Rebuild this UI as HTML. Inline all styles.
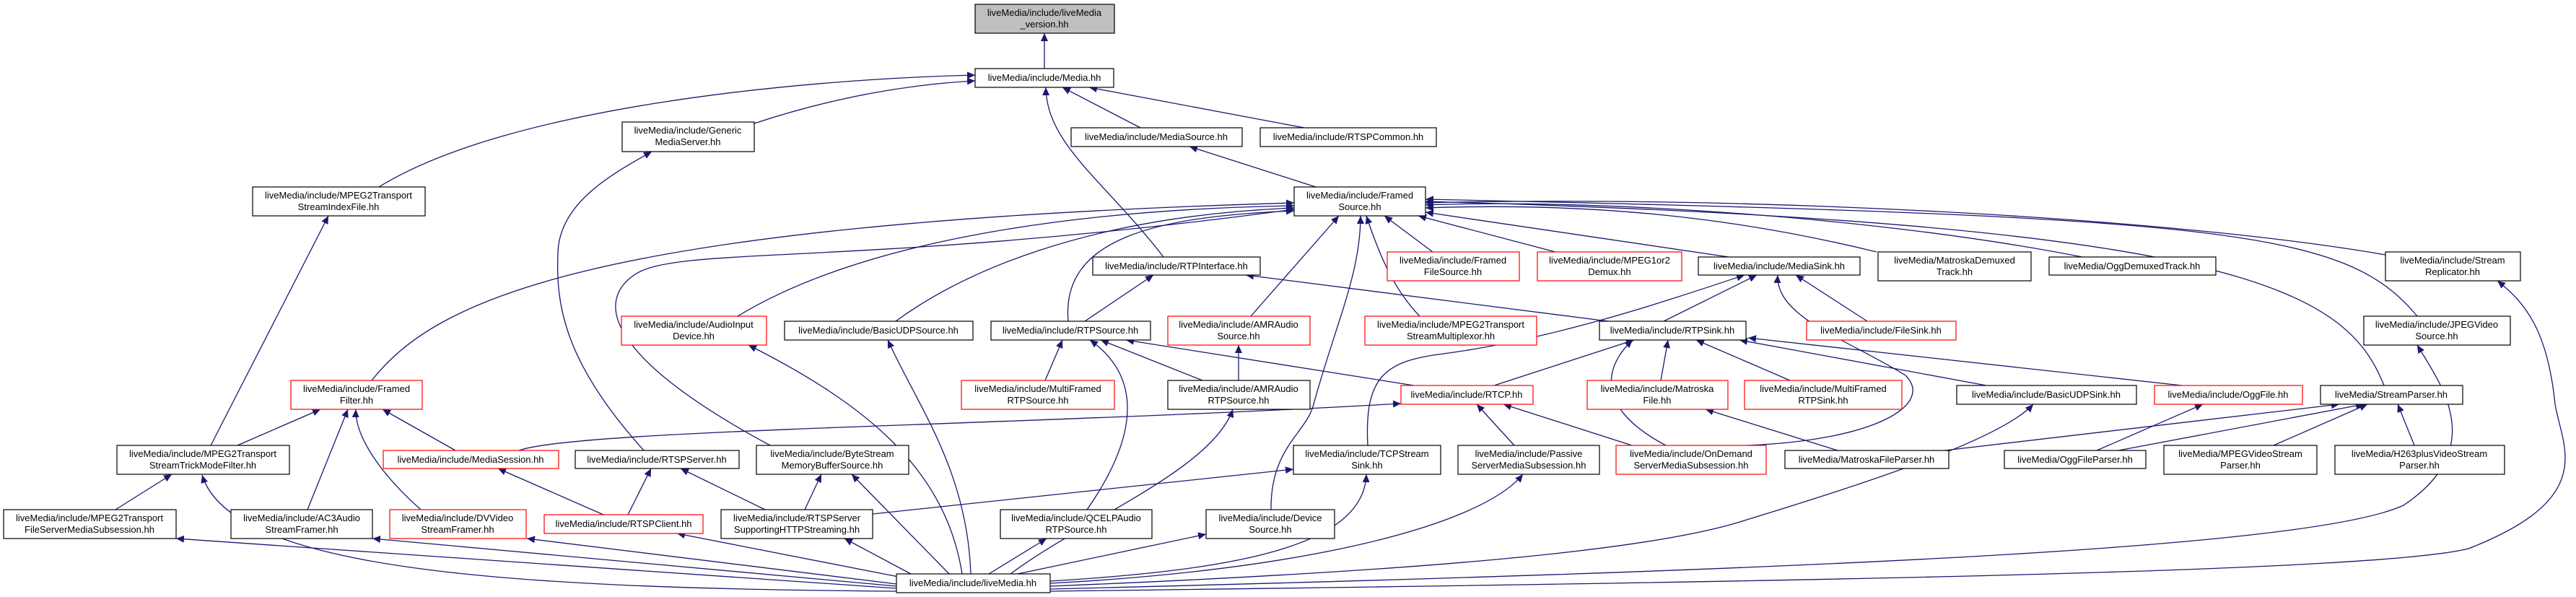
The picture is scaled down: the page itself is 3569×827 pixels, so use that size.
<!DOCTYPE html>
<html><head><meta charset="utf-8"><style>
html,body{margin:0;padding:0;background:#fff;}
svg{display:block;}
text{font-family:"Liberation Sans",sans-serif;font-size:13px;fill:#000;}
.e{fill:none;stroke:#191970;stroke-width:1.3;}
.n{fill:#fff;stroke:#000;stroke-width:1.2;}
.r{fill:#fff;stroke:#ff0000;stroke-width:1.2;}
.g{fill:#bfbfbf;stroke:#000;stroke-width:1.2;}
</style></head><body>
<svg width="3569" height="827" viewBox="0 0 3569 827" xmlns="http://www.w3.org/2000/svg">
<defs><marker id="a" markerWidth="12" markerHeight="10" refX="11" refY="5" orient="auto" markerUnits="userSpaceOnUse"><path d="M0,0 L11,5 L0,10 z" fill="#191970"/></marker></defs>
<g class="e" marker-end="url(#a)">
<path d="M1447,95 L1447,46"/>
<path d="M1045,171 Q1200,120 1351,112"/>
<path d="M525,259 C700,150 1100,110 1351,104"/>
<path d="M1580,177 L1472,121"/>
<path d="M1807,177 L1509,121"/>
<path d="M1612,356 C1530,250 1450,200 1449,121"/>
<path d="M1823,259 L1648,203"/>
<path d="M892,624 C780,500 770,420 773,350 C775,280 850,240 903,210"/>
<path d="M292,617 L455,299"/>
<path d="M515,527 C600,420 800,310 1793,281"/>
<path d="M1022,438 C1200,330 1500,290 1793,285"/>
<path d="M1241,445 C1330,380 1500,300 1793,288"/>
<path d="M1067,617 C850,500 820,420 880,380 C940,340 1200,370 1793,290"/>
<path d="M1480,445 C1470,330 1600,300 1793,292"/>
<path d="M1733,438 L1855,299"/>
<path d="M1761,706 C1760,620 1810,600 1820,560 C1850,450 1885,380 1885,299"/>
<path d="M1967,438 C1930,400 1910,350 1893,299"/>
<path d="M1985,349 L1918,299"/>
<path d="M2155,349 L1965,299"/>
<path d="M2395,356 L1975,294"/>
<path d="M2600,349 C2400,300 2200,280 1975,288"/>
<path d="M2885,356 C2600,300 2200,275 1975,284"/>
<path d="M3305,353 C3000,300 2400,270 1975,281"/>
<path d="M3349,438 C3250,320 3100,300 1975,276"/>
<path d="M3303,534 C3250,400 3100,310 1975,279"/>
<path d="M2228,445 L1726,381"/>
<path d="M1503,445 L1598,381"/>
<path d="M2305,445 L2434,381"/>
<path d="M2587,445 L2488,381"/>
<path d="M1895,617 C1890,520 1920,500 2000,490 C2150,470 2300,420 2417,381"/>
<path d="M2420,617 C2600,610 2680,560 2640,520 C2560,470 2460,440 2463,381"/>
<path d="M2752,534 L2410,471"/>
<path d="M3023,534 L2422,468"/>
<path d="M2070,534 L2264,471"/>
<path d="M2301,527 L2311,471"/>
<path d="M2480,527 L2350,471"/>
<path d="M2308,617 C2200,560 2230,500 2262,471"/>
<path d="M1448,527 L1472,471"/>
<path d="M1666,527 L1525,471"/>
<path d="M1506,706 C1580,600 1580,520 1510,471"/>
<path d="M1959,534 L1560,471"/>
<path d="M1716,527 L1716,478"/>
<path d="M719,624 C800,595 1400,590 1941,559"/>
<path d="M2098,617 L2046,560"/>
<path d="M2261,617 L2083,560"/>
<path d="M2546,624 L2363,567"/>
<path d="M2694,624 L3241,560"/>
<path d="M2905,624 L3052,560"/>
<path d="M2935,624 L3275,560"/>
<path d="M3150,617 L3280,560"/>
<path d="M3345,617 L3322,560"/>
<path d="M329,617 L444,567"/>
<path d="M426,706 L482,567"/>
<path d="M583,706 C520,650 492,600 493,567"/>
<path d="M631,624 L530,567"/>
<path d="M836,713 L690,649"/>
<path d="M870,713 L902,649"/>
<path d="M1060,706 L943,649"/>
<path d="M1115,706 L1138,657"/>
<path d="M1209,712 L1792,650"/>
<path d="M160,706 L238,657"/>
<path d="M1242,815 L244,746"/>
<path d="M1242,819 C700,815 320,790 280,658"/>
<path d="M1242,812 L516,746"/>
<path d="M1242,809 L730,746"/>
<path d="M1250,800 L938,739"/>
<path d="M1262,795 L1170,746"/>
<path d="M1315,795 L1180,657"/>
<path d="M1333,795 C1310,650 1200,560 1037,478"/>
<path d="M1345,795 C1340,650 1270,560 1230,471"/>
<path d="M1370,795 L1450,746"/>
<path d="M1400,795 C1500,720 1680,650 1708,567"/>
<path d="M1410,795 L1671,740"/>
<path d="M1455,805 C1700,790 1890,760 1893,657"/>
<path d="M1455,808 C1800,790 2050,730 2110,657"/>
<path d="M1455,812 C2000,790 2300,760 2420,720 C2650,650 2780,600 2817,560"/>
<path d="M1455,816 C2500,790 3200,760 3330,700 C3450,620 3380,530 3349,478"/>
<path d="M1455,819 C2600,805 3300,790 3420,760 C3600,690 3550,620 3540,560 C3530,460 3500,420 3460,389"/>
</g>
<g>
<rect class="g" x="1351" y="6" width="193" height="40"/><text x="1447" y="22" text-anchor="middle">liveMedia/include/liveMedia</text><text x="1447" y="38" text-anchor="middle">_version.hh</text>
<rect class="n" x="1351" y="95" width="192" height="26"/><text x="1447" y="112" text-anchor="middle">liveMedia/include/Media.hh</text>
<rect class="n" x="862" y="169" width="183" height="41"/><text x="953" y="185" text-anchor="middle">liveMedia/include/Generic</text><text x="953" y="201" text-anchor="middle">MediaServer.hh</text>
<rect class="n" x="350" y="259" width="239" height="40"/><text x="469" y="275" text-anchor="middle">liveMedia/include/MPEG2Transport</text><text x="469" y="291" text-anchor="middle">StreamIndexFile.hh</text>
<rect class="n" x="1484" y="177" width="237" height="26"/><text x="1602" y="194" text-anchor="middle">liveMedia/include/MediaSource.hh</text>
<rect class="n" x="1746" y="177" width="244" height="26"/><text x="1868" y="194" text-anchor="middle">liveMedia/include/RTSPCommon.hh</text>
<rect class="n" x="1793" y="259" width="182" height="40"/><text x="1884" y="275" text-anchor="middle">liveMedia/include/Framed</text><text x="1884" y="291" text-anchor="middle">Source.hh</text>
<rect class="n" x="1514" y="356" width="232" height="25"/><text x="1630" y="373" text-anchor="middle">liveMedia/include/RTPInterface.hh</text>
<rect class="r" x="1922" y="349" width="183" height="40"/><text x="2013" y="365" text-anchor="middle">liveMedia/include/Framed</text><text x="2013" y="381" text-anchor="middle">FileSource.hh</text>
<rect class="r" x="2130" y="349" width="200" height="40"/><text x="2230" y="365" text-anchor="middle">liveMedia/include/MPEG1or2</text><text x="2230" y="381" text-anchor="middle">Demux.hh</text>
<rect class="n" x="2353" y="356" width="224" height="25"/><text x="2465" y="373" text-anchor="middle">liveMedia/include/MediaSink.hh</text>
<rect class="n" x="2602" y="349" width="212" height="40"/><text x="2708" y="365" text-anchor="middle">liveMedia/MatroskaDemuxed</text><text x="2708" y="381" text-anchor="middle">Track.hh</text>
<rect class="n" x="2839" y="356" width="231" height="25"/><text x="2954" y="373" text-anchor="middle">liveMedia/OggDemuxedTrack.hh</text>
<rect class="n" x="3305" y="349" width="187" height="40"/><text x="3398" y="365" text-anchor="middle">liveMedia/include/Stream</text><text x="3398" y="381" text-anchor="middle">Replicator.hh</text>
<rect class="r" x="861" y="438" width="201" height="40"/><text x="961" y="454" text-anchor="middle">liveMedia/include/AudioInput</text><text x="961" y="470" text-anchor="middle">Device.hh</text>
<rect class="n" x="1087" y="445" width="261" height="26"/><text x="1217" y="462" text-anchor="middle">liveMedia/include/BasicUDPSource.hh</text>
<rect class="n" x="1373" y="445" width="221" height="26"/><text x="1483" y="462" text-anchor="middle">liveMedia/include/RTPSource.hh</text>
<rect class="r" x="1618" y="438" width="197" height="40"/><text x="1716" y="454" text-anchor="middle">liveMedia/include/AMRAudio</text><text x="1716" y="470" text-anchor="middle">Source.hh</text>
<rect class="r" x="1891" y="438" width="238" height="40"/><text x="2010" y="454" text-anchor="middle">liveMedia/include/MPEG2Transport</text><text x="2010" y="470" text-anchor="middle">StreamMultiplexor.hh</text>
<rect class="n" x="2216" y="445" width="203" height="26"/><text x="2317" y="462" text-anchor="middle">liveMedia/include/RTPSink.hh</text>
<rect class="r" x="2503" y="445" width="207" height="26"/><text x="2606" y="462" text-anchor="middle">liveMedia/include/FileSink.hh</text>
<rect class="n" x="3275" y="438" width="203" height="40"/><text x="3376" y="454" text-anchor="middle">liveMedia/include/JPEGVideo</text><text x="3376" y="470" text-anchor="middle">Source.hh</text>
<rect class="r" x="403" y="527" width="182" height="40"/><text x="494" y="543" text-anchor="middle">liveMedia/include/Framed</text><text x="494" y="559" text-anchor="middle">Filter.hh</text>
<rect class="r" x="1332" y="527" width="212" height="40"/><text x="1438" y="543" text-anchor="middle">liveMedia/include/MultiFramed</text><text x="1438" y="559" text-anchor="middle">RTPSource.hh</text>
<rect class="n" x="1618" y="527" width="197" height="40"/><text x="1716" y="543" text-anchor="middle">liveMedia/include/AMRAudio</text><text x="1716" y="559" text-anchor="middle">RTPSource.hh</text>
<rect class="r" x="1941" y="534" width="183" height="26"/><text x="2032" y="551" text-anchor="middle">liveMedia/include/RTCP.hh</text>
<rect class="r" x="2199" y="527" width="195" height="40"/><text x="2296" y="543" text-anchor="middle">liveMedia/include/Matroska</text><text x="2296" y="559" text-anchor="middle">File.hh</text>
<rect class="r" x="2417" y="527" width="218" height="40"/><text x="2526" y="543" text-anchor="middle">liveMedia/include/MultiFramed</text><text x="2526" y="559" text-anchor="middle">RTPSink.hh</text>
<rect class="n" x="2711" y="534" width="249" height="26"/><text x="2835" y="551" text-anchor="middle">liveMedia/include/BasicUDPSink.hh</text>
<rect class="r" x="2985" y="534" width="205" height="26"/><text x="3087" y="551" text-anchor="middle">liveMedia/include/OggFile.hh</text>
<rect class="n" x="3215" y="534" width="197" height="26"/><text x="3313" y="551" text-anchor="middle">liveMedia/StreamParser.hh</text>
<rect class="n" x="162" y="617" width="239" height="40"/><text x="281" y="633" text-anchor="middle">liveMedia/include/MPEG2Transport</text><text x="281" y="649" text-anchor="middle">StreamTrickModeFilter.hh</text>
<rect class="r" x="531" y="624" width="243" height="25"/><text x="652" y="641" text-anchor="middle">liveMedia/include/MediaSession.hh</text>
<rect class="n" x="797" y="624" width="227" height="25"/><text x="910" y="641" text-anchor="middle">liveMedia/include/RTSPServer.hh</text>
<rect class="n" x="1048" y="617" width="211" height="40"/><text x="1153" y="633" text-anchor="middle">liveMedia/include/ByteStream</text><text x="1153" y="649" text-anchor="middle">MemoryBufferSource.hh</text>
<rect class="n" x="1792" y="617" width="204" height="40"/><text x="1894" y="633" text-anchor="middle">liveMedia/include/TCPStream</text><text x="1894" y="649" text-anchor="middle">Sink.hh</text>
<rect class="n" x="2020" y="617" width="196" height="40"/><text x="2118" y="633" text-anchor="middle">liveMedia/include/Passive</text><text x="2118" y="649" text-anchor="middle">ServerMediaSubsession.hh</text>
<rect class="r" x="2239" y="617" width="208" height="40"/><text x="2343" y="633" text-anchor="middle">liveMedia/include/OnDemand</text><text x="2343" y="649" text-anchor="middle">ServerMediaSubsession.hh</text>
<rect class="n" x="2473" y="624" width="227" height="25"/><text x="2586" y="641" text-anchor="middle">liveMedia/MatroskaFileParser.hh</text>
<rect class="n" x="2777" y="624" width="196" height="25"/><text x="2875" y="641" text-anchor="middle">liveMedia/OggFileParser.hh</text>
<rect class="n" x="2998" y="617" width="212" height="40"/><text x="3104" y="633" text-anchor="middle">liveMedia/MPEGVideoStream</text><text x="3104" y="649" text-anchor="middle">Parser.hh</text>
<rect class="n" x="3235" y="617" width="235" height="40"/><text x="3352" y="633" text-anchor="middle">liveMedia/H263plusVideoStream</text><text x="3352" y="649" text-anchor="middle">Parser.hh</text>
<rect class="n" x="5" y="706" width="239" height="40"/><text x="124" y="722" text-anchor="middle">liveMedia/include/MPEG2Transport</text><text x="124" y="738" text-anchor="middle">FileServerMediaSubsession.hh</text>
<rect class="n" x="320" y="706" width="196" height="40"/><text x="418" y="722" text-anchor="middle">liveMedia/include/AC3Audio</text><text x="418" y="738" text-anchor="middle">StreamFramer.hh</text>
<rect class="r" x="540" y="706" width="189" height="40"/><text x="634" y="722" text-anchor="middle">liveMedia/include/DVVideo</text><text x="634" y="738" text-anchor="middle">StreamFramer.hh</text>
<rect class="r" x="754" y="713" width="220" height="26"/><text x="864" y="730" text-anchor="middle">liveMedia/include/RTSPClient.hh</text>
<rect class="n" x="999" y="706" width="210" height="40"/><text x="1104" y="722" text-anchor="middle">liveMedia/include/RTSPServer</text><text x="1104" y="738" text-anchor="middle">SupportingHTTPStreaming.hh</text>
<rect class="n" x="1386" y="706" width="210" height="40"/><text x="1491" y="722" text-anchor="middle">liveMedia/include/QCELPAudio</text><text x="1491" y="738" text-anchor="middle">RTPSource.hh</text>
<rect class="n" x="1671" y="706" width="178" height="40"/><text x="1760" y="722" text-anchor="middle">liveMedia/include/Device</text><text x="1760" y="738" text-anchor="middle">Source.hh</text>
<rect class="n" x="1242" y="795" width="213" height="26"/><text x="1348" y="812" text-anchor="middle">liveMedia/include/liveMedia.hh</text>
</g>
</svg>
</body></html>
